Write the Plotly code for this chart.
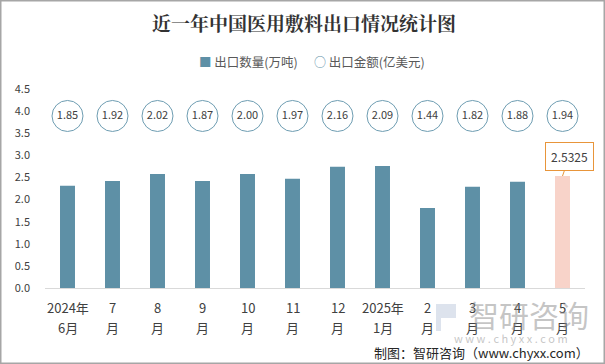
import plotly.graph_objects as go

categories = ["2024年6月", "7月", "8月", "9月", "10月", "11月",
              "12月", "2025年1月", "2月", "3月", "4月", "5月"]
label_line1 = ["2024年", "7", "8", "9", "10", "11", "12", "2025年", "2", "3", "4", "5"]
label_line2 = ["6月", "月", "月", "月", "月", "月", "月", "1月", "月", "月", "月", "月"]
quantity = [2.31, 2.42, 2.58, 2.42, 2.58, 2.47, 2.74, 2.76, 1.81, 2.29, 2.40, 2.5325]
amount = [1.85, 1.92, 2.02, 1.87, 2.00, 1.97, 2.16, 2.09, 1.44, 1.82, 1.88, 1.94]
amount_row = 3.89  # fixed row where amount circles are drawn
yticks = [0.0, 0.5, 1.0, 1.5, 2.0, 2.5, 3.0, 3.5, 4.0, 4.5]

BAR = "#5E90A6"
HIL = "#F8D3C9"
CIRC = "#6E9DB2"
FONT = "Noto Sans CJK SC, Microsoft YaHei, sans-serif"

W, H = 605, 364
L, R, T, B = 45, 20, 89, 76
PW, PH = W - L - R, H - T - B


def px_x(px):
    return (px - L) / PW


def px_y(py):
    return (H - B - py) / PH


bar_colors = [BAR] * (len(quantity) - 1) + [HIL]

fig = go.Figure()
fig.add_trace(go.Bar(
    x=categories, y=quantity, name="出口数量(万吨)",
    marker=dict(color=bar_colors, line=dict(width=0)),
    width=0.333, showlegend=False, hoverinfo="skip"
))
fig.add_trace(go.Scatter(
    x=categories, y=[amount_row] * len(amount), mode="markers+text", name="出口金额(亿美元)",
    text=[f"{v:.2f}" for v in amount], textposition="middle center",
    textfont=dict(size=11, color="#404040", family=FONT),
    marker=dict(symbol="circle", size=31, color="white", line=dict(color=CIRC, width=1)),
    showlegend=False, hoverinfo="skip"
))

# highlighted value callout
fig.add_annotation(
    x=categories[-1], y=quantity[-1], text=f"{quantity[-1]}",
    showarrow=True, arrowhead=0, arrowwidth=1, arrowcolor="#E8953A",
    ax=7, ay=-20, bordercolor="#E8953A", borderwidth=1, borderpad=5,
    bgcolor="white", font=dict(size=12, color="#404040", family=FONT)
)

# two-line category labels
for c, a, b in zip(categories, label_line1, label_line2):
    fig.add_annotation(x=c, y=px_y(307), xref="x", yref="paper", text=a, showarrow=False,
                       xanchor="center", yanchor="middle", font=dict(size=13, color="#404040", family=FONT))
    fig.add_annotation(x=c, y=px_y(327), xref="x", yref="paper", text=b, showarrow=False,
                       xanchor="center", yanchor="middle", font=dict(size=13, color="#404040", family=FONT))

# legend (drawn as text)
fig.add_annotation(xref="paper", yref="paper", x=px_x(197), y=px_y(62), xanchor="left", yanchor="middle",
                   text=f"<span style='color:{BAR}'>■</span> 出口数量(万吨)", showarrow=False,
                   font=dict(size=12.5, color="#595959", family=FONT))
fig.add_annotation(xref="paper", yref="paper", x=px_x(312), y=px_y(62), xanchor="left", yanchor="middle",
                   text=f"<span style='color:#5E8FA8;font-size:12px'>○</span> 出口金额(亿美元)", showarrow=False,
                   font=dict(size=12.5, color="#595959", family=FONT))

# watermark
fig.add_shape(type="path", xref="paper", yref="paper",
              path=(f"M {px_x(436)} {px_y(304)} L {px_x(456)} {px_y(304)} L {px_x(456)} {px_y(318)} "
                    f"L {px_x(441)} {px_y(318)} L {px_x(441)} {px_y(331)} L {px_x(436)} {px_y(331)} Z"),
              fillcolor="rgba(170,185,210,0.4)", line=dict(width=0), layer="above")
fig.add_annotation(xref="paper", yref="paper", x=px_x(529), y=px_y(314), xanchor="center", yanchor="middle",
                   text="智研咨询", showarrow=False,
                   font=dict(size=30, color="rgba(140,140,140,0.5)", family=FONT))
fig.add_annotation(xref="paper", yref="paper", x=px_x(511), y=px_y(338), xanchor="center", yanchor="middle",
                   text="w w w . c h y x x . c o m", showarrow=False,
                   font=dict(size=11, color="rgba(140,140,140,0.5)", family=FONT))
# footer
fig.add_annotation(xref="paper", yref="paper", x=px_x(591), y=px_y(352), xanchor="right", yanchor="middle",
                   text="制图：智研咨询（www.chyxx.com）", showarrow=False,
                   font=dict(size=13, color="#262626", family=FONT))

fig.add_shape(type="rect", xref="paper", yref="paper", x0=px_x(0.75), x1=px_x(W - 0.75),
              y0=px_y(H - 0.75), y1=px_y(0.75), line=dict(color="#A6A6A6", width=1.5), layer="above")

fig.update_layout(
    width=W, height=H,
    margin=dict(l=L, r=R, t=T, b=B, autoexpand=False),
    paper_bgcolor="white", plot_bgcolor="white",
    font=dict(family=FONT, color="#404040"),
    showlegend=False,
    title=dict(text="<b>近一年中国医用敷料出口情况统计图</b>", xref="container", yref="container",
               x=304 / W, y=1 - 24 / H, xanchor="center", yanchor="middle",
               font=dict(size=19, color="#333333", family="Noto Serif CJK SC, Noto Sans CJK SC, serif")),
    bargap=0.667,
    xaxis=dict(showgrid=False, showline=True, linecolor="#D9D9D9", linewidth=1, ticks="",
               showticklabels=False, range=[-0.5, len(categories) - 0.5]),
    yaxis=dict(range=[0, 4.5], tickvals=yticks, ticktext=[f"{v:.1f}" for v in yticks],
               showgrid=False, zeroline=False, showline=False, ticks="",
               tickfont=dict(size=11, color="#404040"), ticklabelstandoff=14),
)

fig.write_html("out.html", post_script="document.body.style.margin='0';",
               config={"displayModeBar": False})
